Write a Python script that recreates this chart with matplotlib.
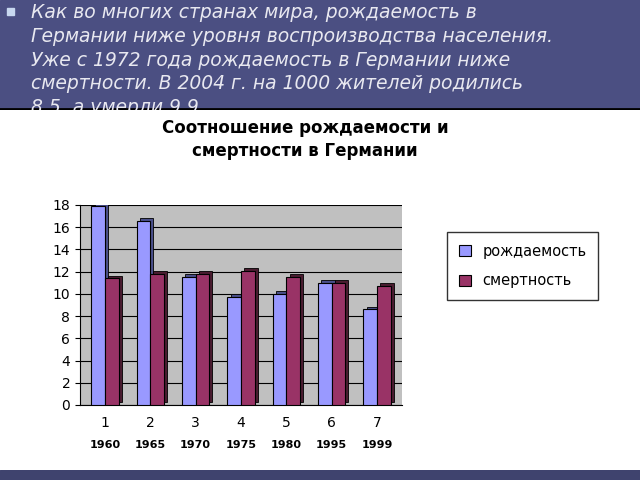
import matplotlib.pyplot as plt
import matplotlib.patches as mpatches
import numpy as np

# data
groups = ['1', '2', '3', '4', '5', '6', '7']
years = ['1960', '1965', '1970', '1975', '1980', '1995', '1999']
births = [17.9, 16.6, 11.5, 9.7, 10.0, 11.0, 8.6]
deaths = [11.4, 11.8, 11.8, 12.1, 11.5, 11.0, 10.7]

slide_text = ("Как во многих странах мира, рождаемость в\n"
              "Германии ниже уровня воспроизводства населения.\n"
              "Уже с 1972 года рождаемость в Германии ниже\n"
              "смертности. В 2004 г. на 1000 жителей родились\n"
              "8,5, а умерли 9,9.")

fig = plt.figure(figsize=(6.4, 4.8), dpi=100)
fig.patch.set_facecolor('white')

# dark header band of the slide
band = fig.add_axes([0, 1 - 110 / 480, 1, 110 / 480])
band.set_xlim(0, 640)
band.set_ylim(110, 0)
band.axis('off')
band.add_patch(mpatches.Rectangle((0, 0), 640, 110, color='#4b4f82'))
band.add_patch(mpatches.Rectangle((7, 8), 7, 7, color='#c8d8f0'))
t = band.text(31, 3, slide_text, color='#e8e8f0', fontsize=13.5, style='italic',
              va='top', ha='left', linespacing=1.32)
t.set_clip_on(True)
band.plot([0, 640], [109, 109], color='black', lw=2)

# bottom strip
bottom = fig.add_axes([0, 0, 1, 10 / 480])
bottom.axis('off')
bottom.add_patch(mpatches.Rectangle((0, 0), 1, 1, color='#3f436e', transform=bottom.transAxes))

fig.text(305 / 640, 1 - 128 / 480, 'Соотношение рождаемости и', ha='center', va='center',
         fontsize=12, fontweight='bold')
fig.text(305 / 640, 1 - 151 / 480, 'смертности в Германии', ha='center', va='center',
         fontsize=12, fontweight='bold')

ax = fig.add_axes([80 / 640, 75 / 480, 322 / 640, 200 / 480])
ax.set_facecolor('#c0c0c0')
x = np.arange(len(groups))
w = 0.3
depth = 0.07
# darker side faces to mimic the 3D look
ax.bar(x - w / 2 + depth, births, w, bottom=0.25, color='#4a4f8a', edgecolor='black', lw=0.6, zorder=2)
ax.bar(x + w / 2 + depth, deaths, w, bottom=0.25, color='#4a1c30', edgecolor='black', lw=0.6, zorder=2)
ax.bar(x - w / 2, births, w, color='#9999ff', edgecolor='black', lw=0.8, zorder=3, label='рождаемость')
ax.bar(x + w / 2, deaths, w, color='#993366', edgecolor='black', lw=0.8, zorder=3, label='смертность')
ax.set_ylim(0, 18)
ax.set_xlim(-0.55, len(groups) - 0.45)
ax.set_yticks(range(0, 19, 2))
ax.yaxis.grid(True, color='black', lw=0.8, zorder=1)
ax.set_axisbelow(True)
ax.set_xticks(x)
ax.set_xticklabels(groups, fontsize=10)
ax.tick_params(axis='y', labelsize=10)
ax.tick_params(axis='x', length=0, pad=8)
for i, yr in enumerate(years):
    ax.text(x[i], -3.6, yr, ha='center', va='center', fontsize=8, fontweight='bold')
for s in ['top', 'right']:
    ax.spines[s].set_visible(False)

ax.legend(loc='center left', bbox_to_anchor=(440 / 640, 1 - 266 / 480),
          bbox_transform=fig.transFigure, fontsize=10.5, frameon=True,
          fancybox=False, edgecolor='black', handlelength=0.8, handleheight=0.8,
          borderpad=0.8, labelspacing=1.0)

fig.savefig('out.png', dpi=100)
